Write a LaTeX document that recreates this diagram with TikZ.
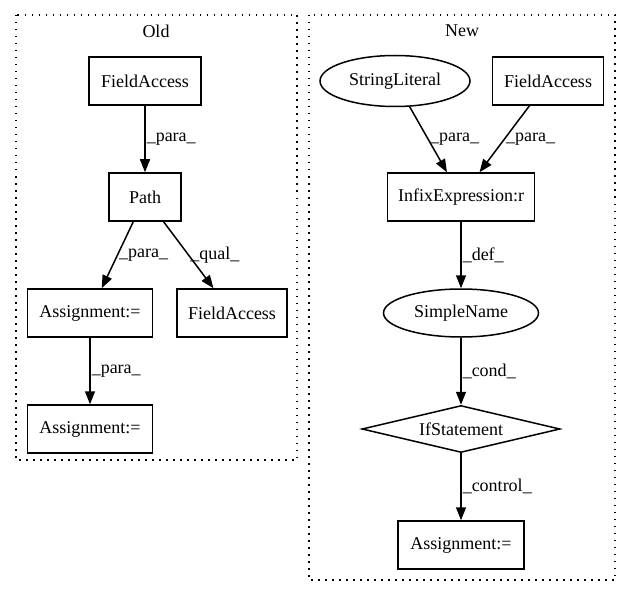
\documentclass[tikz,border=0pt]{standalone}
\usepackage{fontspec}
\setmainfont{Liberation Serif}
\usetikzlibrary{shapes.geometric,arrows.meta}
\begin{document}
\begin{tikzpicture}[x=1pt,y=-1pt,
  every node/.style={font=\fontsize{18}{20}\selectfont},
  box/.style={draw, line width=1.5pt, rectangle, minimum height=48pt, inner sep=0pt},
  oval/.style={draw, line width=1.5pt, ellipse, inner sep=0pt},
  dia/.style={draw, line width=1.5pt, diamond, inner sep=0pt},
  edge/.style={draw, line width=1.5pt, -{Triangle[length=13pt,width=10pt]}},
  lbl/.style={anchor=west, inner sep=1pt},
  cluster/.style={draw, line width=1.5pt, dash pattern=on 1.5pt off 5.5pt}]
\useasboundingbox (0,0) rectangle (631,596);
% clusters
\draw[cluster] (16,15) rectangle (297,460);
\draw[cluster] (309,15) rectangle (615,580);
\node (oldT) at (156,31) {Old};
\node (newT) at (462,31) {New};
% Old nodes
\node[box, minimum width=112pt] (oFA) at (145,81) {FieldAccess};
\node[box, minimum width=72pt] (oPath) at (145,197) {Path};
\node[box, minimum width=125pt] (oA1) at (90,313) {Assignment:=};
\node[box, minimum width=110pt] (oFA2) at (232,313) {FieldAccess};
\node[box, minimum width=125pt] (oA2) at (90,429) {Assignment:=};
% New nodes
\node[oval, minimum width=150pt, minimum height=51pt] (nSL) at (395,81) {StringLiteral};
\node[box, minimum width=111pt] (nFA) at (548,81) {FieldAccess};
\node[box, minimum width=147pt] (nIE) at (461,197) {InfixExpression:r};
\node[oval, minimum width=155pt, minimum height=48pt] (nSN) at (461,313) {SimpleName};
\node[dia, minimum width=198pt, minimum height=47pt, aspect=4.2] (nIf) at (461,429) {IfStatement};
\node[box, minimum width=126pt] (nA) at (461,545) {Assignment:=};
% Old edges
\draw[edge] (oFA) -- node[lbl] {\_para\_} (oPath);
\draw[edge] (oPath) -- node[lbl] {\_para\_} (oA1);
\draw[edge] (oPath) -- node[lbl] {\_qual\_} (oFA2);
\draw[edge] (oA1) -- node[lbl] {\_para\_} (oA2);
% New edges
\draw[edge] (nSL) -- node[lbl] {\_para\_} (nIE);
\draw[edge] (nFA) -- node[lbl] {\_para\_} (nIE);
\draw[edge] (nIE) -- node[lbl] {\_def\_} (nSN);
\draw[edge] (nSN) -- node[lbl] {\_cond\_} (nIf);
\draw[edge] (nIf) -- node[lbl] {\_control\_} (nA);
\end{tikzpicture}
\end{document}
